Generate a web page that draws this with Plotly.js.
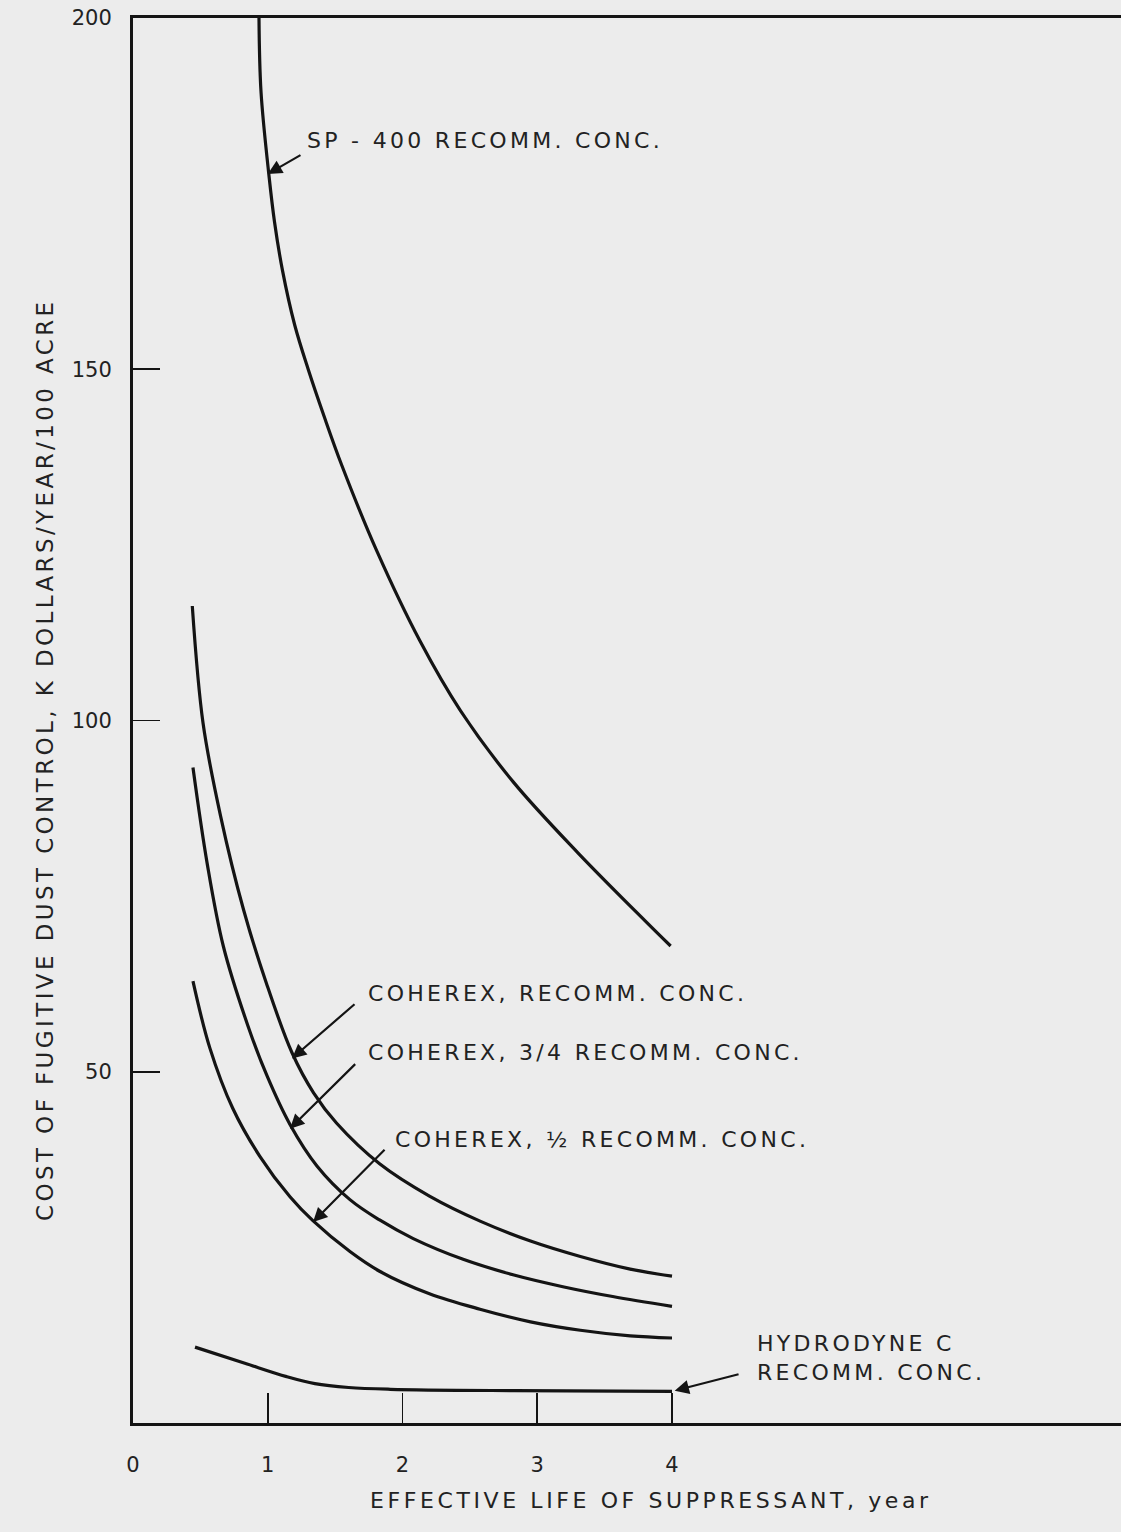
<!DOCTYPE html>
<html>
<head>
<meta charset="utf-8">
<script src="https://cdn.plot.ly/plotly-3.0.1.min.js"></script>
<style>
  html, body { margin: 0; padding: 0; background: #ececec; }
  #chart { width: 1121px; height: 1532px; }
  .annotation-text { letter-spacing: 3.3px; }
</style>
</head>
<body>
<div id="chart"></div>
<script>
// ---- data (x: years, y: K dollars/year/100 acre) ----
const sp400X = [0.935, 0.95, 1.01, 1.05, 1.11, 1.20, 1.30, 1.42, 1.55, 1.81, 2.13, 2.43, 2.82, 3.30, 3.81, 3.99];
const sp400Y = [200, 189.5, 177.4, 171.0, 164.0, 156.3, 150.0, 143.2, 136.3, 124.1, 111.3, 101.4, 91.3, 81.2, 71.3, 67.9];

const coherexFullX = [0.44, 0.52, 0.65, 0.82, 0.99, 1.18, 1.34, 1.51, 1.83, 2.20, 2.58, 2.95, 3.32, 3.69, 4.00];
const coherexFullY = [116.3, 99.6, 86.4, 73.1, 62.6, 52.7, 47.0, 42.7, 36.9, 32.3, 28.7, 25.9, 23.7, 21.9, 20.9];

const coherex34X = [0.445, 0.55, 0.67, 0.85, 0.995, 1.165, 1.365, 1.61, 1.83, 2.08, 2.45, 2.82, 3.19, 3.56, 4.00];
const coherex34Y = [93.3, 79.7, 67.9, 56.7, 49.4, 42.5, 36.6, 31.8, 28.9, 26.25, 23.3, 21.1, 19.4, 18.0, 16.6];

const coherexHalfX = [0.445, 0.57, 0.74, 0.94, 1.165, 1.335, 1.61, 1.83, 2.20, 2.575, 2.95, 3.32, 3.69, 4.00];
const coherexHalfY = [62.9, 53.4, 44.8, 38.0, 32.2, 28.8, 24.4, 21.6, 18.4, 16.2, 14.4, 13.2, 12.4, 12.1];

const hydrodyneX = [0.46, 0.83, 1.14, 1.35, 1.60, 1.91, 2.83, 4.00];
const hydrodyneY = [10.8, 8.5, 6.6, 5.6, 5.05, 4.8, 4.6, 4.5];

const xTickVals = [0, 1, 2, 3, 4];
const xTickText = ['0', '1', '2', '3', '4'];
const yTickVals = [50, 100, 150, 200];
const yTickText = ['50', '100', '150', '200'];

const seriesNames = ['SP - 400 RECOMM. CONC.', 'COHEREX, RECOMM. CONC.',
  'COHEREX, 3/4 RECOMM. CONC.', 'COHEREX, ½ RECOMM. CONC.', 'HYDRODYNE C RECOMM. CONC.'];

const xTitle = 'EFFECTIVE LIFE OF SUPPRESSANT, year';
const yTitle = 'COST OF FUGITIVE DUST CONTROL, K DOLLARS/YEAR/100 ACRE';

// ---- drawing ----
const ink = '#141414';
const textInk = '#222222';
const FONT = 'DejaVu Sans, sans-serif';

function curve(x, y, name) {
  return {
    x: x, y: y, name: name, type: 'scatter', mode: 'lines',
    line: { color: ink, width: 3.2, shape: 'spline', smoothing: 1.0 },
    hoverinfo: 'name', showlegend: false
  };
}

const data = [
  curve(sp400X, sp400Y, seriesNames[0]),
  curve(coherexFullX, coherexFullY, seriesNames[1]),
  curve(coherex34X, coherex34Y, seriesNames[2]),
  curve(coherexHalfX, coherexHalfY, seriesNames[3]),
  curve(hydrodyneX, hydrodyneY, seriesNames[4])
];

function label(text, x, y) {
  return { text: text, x: x, y: y, xref: 'x', yref: 'y', xanchor: 'left', yanchor: 'middle',
    align: 'left', showarrow: false, font: { family: FONT, size: 22, color: textInk } };
}
function arrow(tipX, tipY, tailX, tailY) {
  return { text: '', x: tipX, y: tipY, xref: 'x', yref: 'y', ax: tailX, ay: tailY,
    axref: 'x', ayref: 'y', showarrow: true, arrowhead: 2, arrowsize: 1.3, arrowwidth: 2.2,
    arrowcolor: ink, standoff: 0, startstandoff: 0 };
}

const annotations = [
  label('SP - 400 RECOMM. CONC.', 1.276, 182.5),
  arrow(1.00, 177.8, 1.254, 180.6),
  label('COHEREX, RECOMM. CONC.', 1.73, 61.2),
  arrow(1.18, 51.9, 1.655, 59.8),
  label('COHEREX, 3/4 RECOMM. CONC.', 1.73, 52.8),
  arrow(1.165, 41.9, 1.66, 51.3),
  label('COHEREX, ½ RECOMM. CONC.', 1.93, 40.4),
  arrow(1.336, 28.6, 1.878, 39.1),
  label('HYDRODYNE C<br>RECOMM. CONC.', 4.616, 9.3),
  arrow(4.02, 4.6, 4.505, 7.0),
  { text: '<span style="letter-spacing:3.6px">' + xTitle + '</span>', x: 651, y: 1515,
    xref: 'paper', yref: 'paper', showarrow: false,
    font: { family: FONT, size: 22, color: textInk } },
  { text: '<span style="letter-spacing:3.4px">' + yTitle + '</span>', x: 30, y: 760,
    xref: 'paper', yref: 'paper', showarrow: false, textangle: -90,
    font: { family: FONT, size: 23, color: textInk } }
];

// convert the two title annotations from pixel to paper coordinates
const W = 1121, H = 1532;
const M = { l: 133, r: 0, t: 18, b: 109 };
const pw = W - M.l - M.r, ph = H - M.t - M.b;
annotations.forEach(a => {
  if (a.xref === 'paper') {
    a.x = (a.x - M.l) / pw;
    a.y = 1 - (a.y - M.t) / ph;
  }
});

const layout = {
  width: W, height: H,
  margin: M,
  paper_bgcolor: '#ececec', plot_bgcolor: '#ececec',
  showlegend: false,
  font: { family: FONT, color: textInk },
  xaxis: {
    range: [0, (W - M.l) / 134.75],
    tickmode: 'array', tickvals: xTickVals, ticktext: xTickText,
    ticks: 'inside', ticklen: 30, tickwidth: 1.8, tickcolor: ink,
    showline: true, linecolor: ink, linewidth: 3, mirror: true,
    showgrid: false, zeroline: false,
    ticklabelstandoff: 21,
    tickfont: { family: FONT, size: 21, color: textInk }
  },
  yaxis: {
    range: [0, 200],
    tickmode: 'array', tickvals: yTickVals, ticktext: yTickText,
    ticks: 'inside', ticklen: 27, tickwidth: 1.8, tickcolor: ink,
    showline: true, linecolor: ink, linewidth: 3, mirror: false,
    showgrid: false, zeroline: false,
    ticklabelstandoff: 14,
    tickfont: { family: FONT, size: 21, color: textInk }
  },
  annotations: annotations
};

Plotly.newPlot('chart', data, layout, { displayModeBar: false, staticPlot: true });
</script>
</body>
</html>
